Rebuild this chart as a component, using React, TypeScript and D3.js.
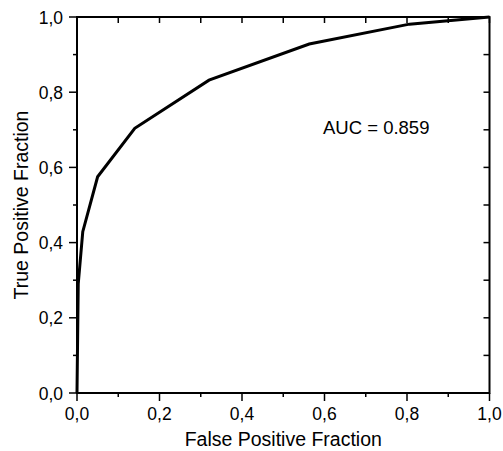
import React from "react";
import * as d3 from "d3";

const fpr = [0, 0.003, 0.014, 0.05, 0.14, 0.32, 0.563, 0.806, 1.0];
const tpr = [0, 0.29, 0.429, 0.575, 0.704, 0.832, 0.928, 0.981, 1.0];
const majorTicks = [0, 0.2, 0.4, 0.6, 0.8, 1.0];
const minorTicks = [0.1, 0.3, 0.5, 0.7, 0.9];
const aucLabel = "AUC = 0.859";
const xTitle = "False Positive Fraction";
const yTitle = "True Positive Fraction";

export default function App() {
  const W = 503, H = 451;
  const left = 77, right = 489.5, top = 17, bottom = 393;
  const x = d3.scaleLinear().domain([0, 1]).range([left, right]);
  const y = d3.scaleLinear().domain([0, 1]).range([bottom, top]);
  const fmt = (v: number) => v.toFixed(1).replace(".", ",");
  const pts: [number, number][] = fpr.map((f, i) => [f, tpr[i]]);
  const line = d3.line<[number, number]>().x(d => x(d[0])).y(d => y(d[1]));
  const font = "Arial, 'Liberation Sans', sans-serif";
  const all = [...majorTicks, ...minorTicks];
  return (
    <svg width={W} height={H} style={{ position: "absolute", left: 0, top: 0, background: "#fff" }}>
      <rect x={0} y={0} width={W} height={H} fill="#fff" />
      <g stroke="#000" strokeWidth={1.5}>
        {majorTicks.map(t => (
          <line key={"bx" + t} x1={x(t)} x2={x(t)} y1={bottom} y2={bottom + 8} />
        ))}
        {minorTicks.map(t => (
          <line key={"bxm" + t} x1={x(t)} x2={x(t)} y1={bottom} y2={bottom + 4} />
        ))}
        {majorTicks.map(t => (
          <line key={"ly" + t} x1={left - 8} x2={left} y1={y(t)} y2={y(t)} />
        ))}
        {minorTicks.map(t => (
          <line key={"lym" + t} x1={left - 4} x2={left} y1={y(t)} y2={y(t)} />
        ))}
        {all.map(t => (
          <line key={"tx" + t} x1={x(t)} x2={x(t)} y1={top} y2={top + 6} />
        ))}
        {all.map(t => (
          <line key={"ry" + t} x1={right - 6} x2={right} y1={y(t)} y2={y(t)} />
        ))}
      </g>
      <rect x={left} y={top} width={right - left} height={bottom - top} fill="none" stroke="#000" strokeWidth={2} />
      <path d={line(pts) || ""} fill="none" stroke="#000" strokeWidth={3} strokeLinejoin="miter" />
      <g fontFamily={font} fontSize={17.5} fill="#000">
        {majorTicks.map(t => (
          <text key={"xl" + t} x={x(t)} y={419.5} textAnchor="middle">{fmt(t)}</text>
        ))}
        {majorTicks.map(t => (
          <text key={"yl" + t} x={63} y={y(t) + 6.5} textAnchor="end">{fmt(t)}</text>
        ))}
      </g>
      <text x={323} y={134} fontFamily={font} fontSize={18.5}>{aucLabel}</text>
      <text x={(left + right) / 2} y={446} textAnchor="middle" fontFamily={font} fontSize={19.5}>{xTitle}</text>
      <text transform={`translate(28,${(top + bottom) / 2}) rotate(-90)`} textAnchor="middle" fontFamily={font} fontSize={19.5}>{yTitle}</text>
    </svg>
  );
}
